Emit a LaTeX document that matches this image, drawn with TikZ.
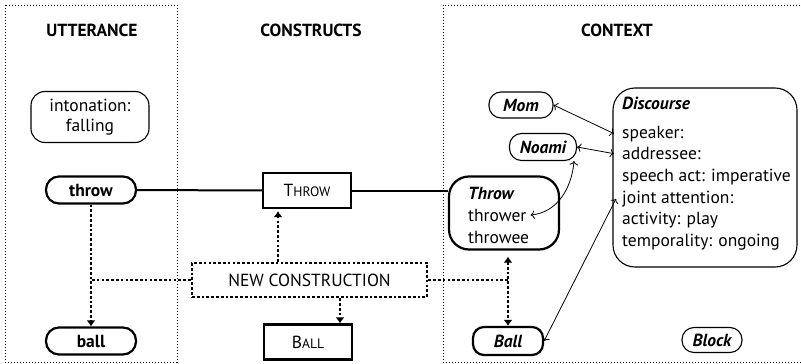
\documentclass[tikz,border=0pt]{standalone}
\usepackage{fontspec}
\setmainfont{PT Sans}
\usetikzlibrary{arrows.meta}
\newcommand\capsword[2]{#1{\fontsize{13.6}{13.6}\selectfont #2}}
\tikzset{
  region/.style={line width=1pt, dash pattern=on 1.3pt off 1.7pt},
  heading/.style={font=\bfseries},
  lexeme/.style={draw, line width=2.2pt, rounded corners=13pt, minimum width=90pt, minimum height=27pt, font=\bfseries},
  cxn/.style={draw, line width=2.2pt, minimum width=88pt, minimum height=35pt},
  entity/.style={draw, line width=1.1pt, rounded corners=12pt, minimum height=26pt, font=\bfseries\itshape},
  slotbox/.style={draw, rounded corners=#1},
  textline/.style={anchor=base west, inner sep=0pt},
  link/.style={line width=2pt},
  flow/.style={line width=2.7pt, dash pattern=on 2.7pt off 2.1pt},
  tip/.style={-{Latex[length=6pt,width=9pt]}},
  assoc/.style={line width=0.8pt, {To[length=4pt]}-{To[length=4pt]}}
}
\begin{document}
\fontsize{17.5}{21.6}\selectfont
\begin{tikzpicture}[x=1pt, y=-1pt]
    \useasboundingbox (0,0) rectangle (801,364);
    \draw[region] (5,5) rectangle (177,362);
    \draw[region] (803,5) -| (443,362) -- (803,362);
    \node[heading] (uttlabel) at (92,30) {UTTERANCE};
    \node[heading] (cxnlabel) at (311,30) {CONSTRUCTS};
    \node[heading] (ctxlabel) at (617,30) {CONTEXT};
    \node[draw, line width=1.1pt, rounded corners=14pt, minimum width=118pt, minimum height=51pt, align=center] (intonation) at (90,117) {intonation:\\[-2pt]falling};
    \node[lexeme] (throwutt) at (91,190) {throw};
    \node[lexeme] (ballutt) at (91,341) {ball};
    \node[cxn] (throwcxn) at (307,190.5) {\capsword{T}{HROW}};
    \node[cxn] (ballcxn) at (308,342) {\capsword{B}{ALL}};
    \node[draw, flow, minimum width=235pt, minimum height=34pt] (newcxn) at (309.5,280) {NEW CONSTRUCTION};
    \node[entity, minimum width=64pt] (mom) at (521,105) {Mom};
    \node[entity, minimum width=67pt, minimum height=27pt] (noami) at (543,147) {Noami};
    \node[entity, line width=2.2pt, rounded corners=11pt, minimum width=70pt, minimum height=28pt] (ballctx) at (508,341) {Ball};
    \node[entity, minimum width=60pt, minimum height=25pt] (block) at (712,340) {Block};
    \node[slotbox=20pt, line width=2.2pt, minimum width=110pt, minimum height=73pt] (throwctx) at (504,213) {};
    \node[textline, font=\bfseries\itshape] (throwhead) at (468,199) {Throw};
    \node[textline] (thrower) at (468,221) {thrower};
    \node[textline] (throwee) at (468,243) {throwee};
    \node[slotbox=22pt, line width=1.1pt, minimum width=184pt, minimum height=179pt] (discourse) at (705,177.5) {};
    \node[textline, font=\bfseries\itshape] (dischead) at (622,109) {Discourse};
    \node[textline] (speaker) at (622,138) {speaker:};
    \node[textline] (addressee) at (622,159.7) {addressee:};
    \node[textline] (speechact) at (622,181.4) {speech act: imperative};
    \node[textline] (joint) at (622,203.1) {joint attention:};
    \node[textline] (activity) at (622,224.8) {activity: play};
    \node[textline] (temporality) at (622,246.5) {temporality: ongoing};
    \draw[link] (throwutt) -- (throwcxn);
    \draw[link] (throwcxn.east) -- (throwcxn.east -| throwctx.west);
    \draw[flow, tip] (throwutt) -- (ballutt);
    \draw[flow] (newcxn.west) -- (newcxn.west -| throwutt.south);
    \draw[flow, tip] ([xshift=-29pt]throwcxn.south |- newcxn.north) -- ([xshift=-29pt,yshift=-2pt]throwcxn.south);
    \draw[flow, tip] ([xshift=32pt]ballcxn.north |- newcxn.south) -- ([xshift=32pt]ballcxn.north);
    \draw[flow, {Latex[length=6pt,width=9pt]}-{Latex[length=6pt,width=9pt]}] ([yshift=-6pt]ballctx.north |- throwctx.south) -- (ballctx.north);
    \draw[flow] (newcxn.east) -- (newcxn.east -| ballctx.north);
    \draw[assoc] (mom.east) -- ([xshift=-8pt]speaker.west);
    \draw[assoc] (noami.east) -- ([xshift=-8pt]addressee.west);
    \draw[assoc] ([xshift=-3pt]noami.south east) to[out=-95, in=5] ([xshift=4pt]thrower.east);
    \draw[assoc] (ballctx.east) -- ([xshift=-6pt]joint.west);
\end{tikzpicture}
\end{document}
